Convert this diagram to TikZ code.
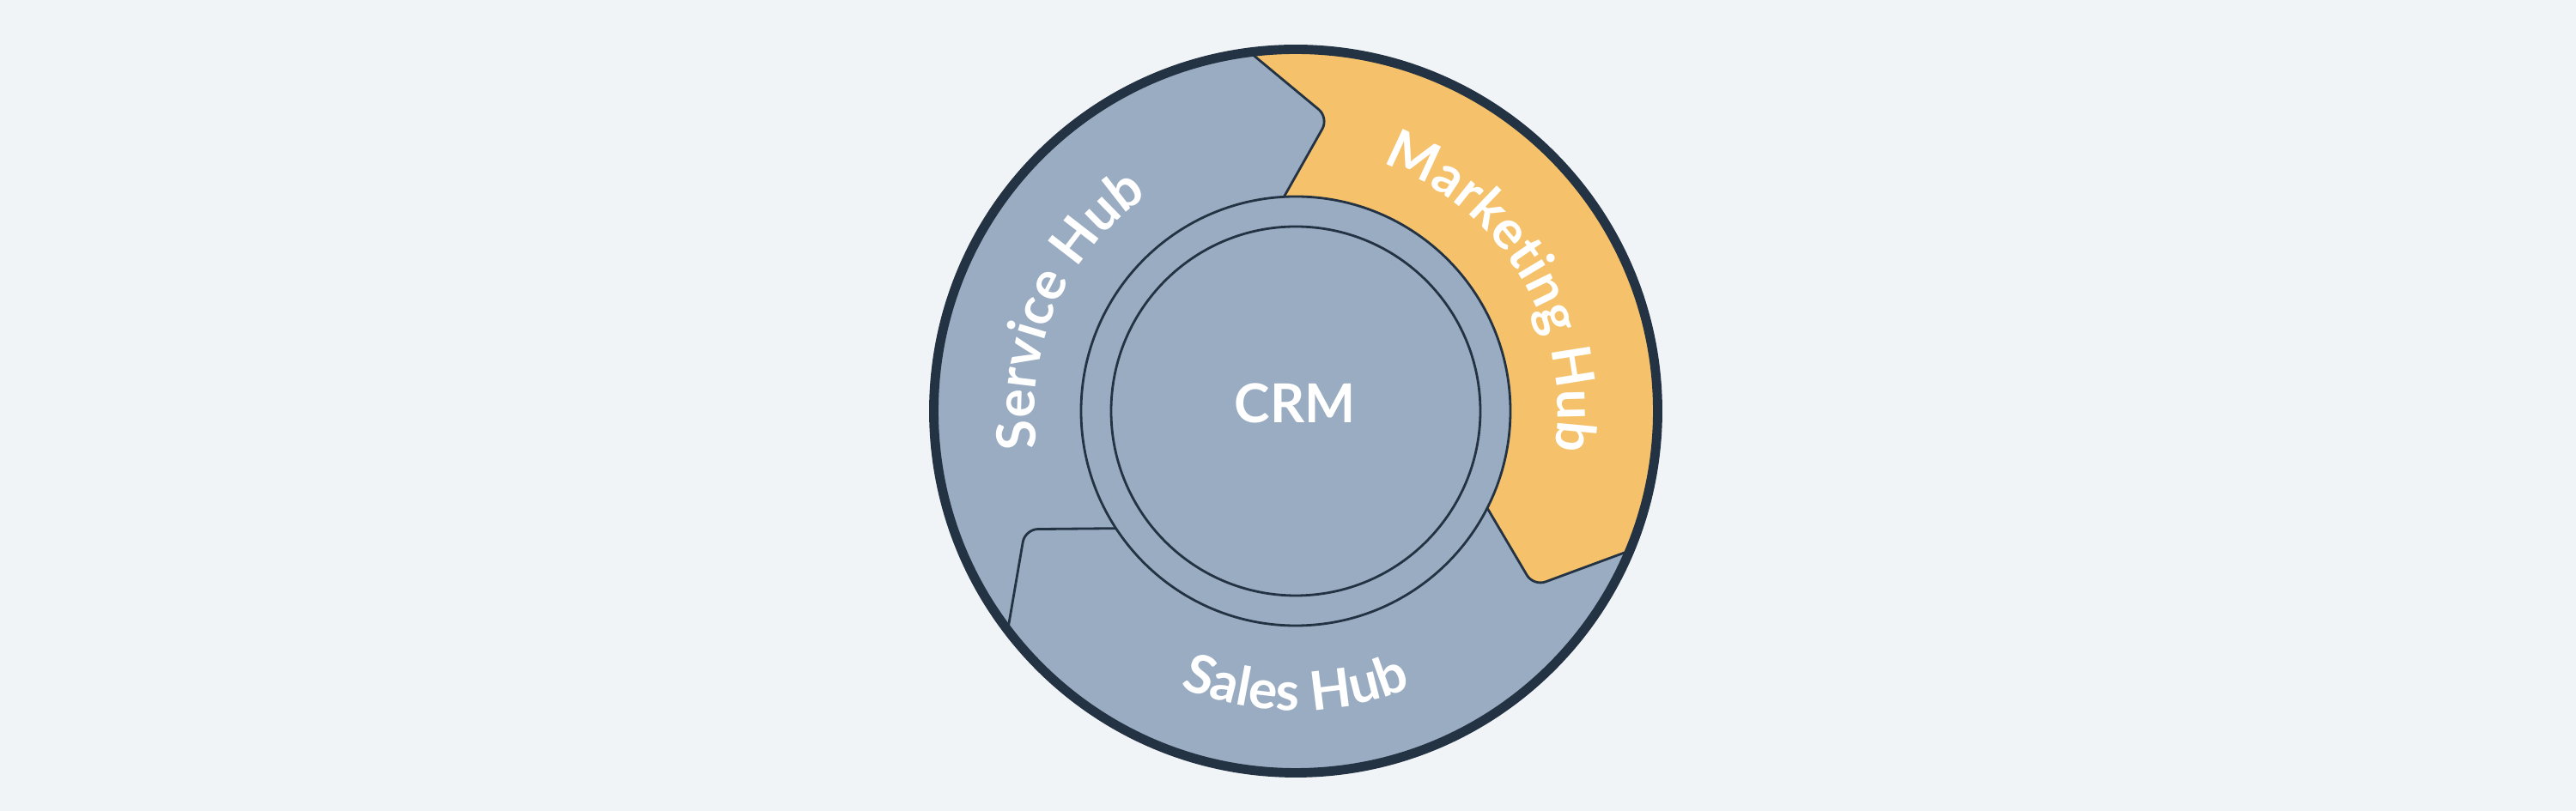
\documentclass[tikz,border=0pt]{standalone}
\usepackage{fontspec}
\setsansfont{Lato}
\usetikzlibrary{decorations.text}
\definecolor{hubbg}{HTML}{F1F4F7}
\definecolor{hubslate}{HTML}{9AACC2}
\definecolor{hubgold}{HTML}{F5C26B}
\definecolor{hubnavy}{HTML}{243343}
\newcommand{\hubfnt}{\sffamily\bfseries\fontsize{17.8}{21}\selectfont}
\tikzset{
    hubline/.style = {draw=hubnavy, line width=0.8pt, rounded corners=1.5mm},
    crmring/.style = {circle, draw=hubnavy, line width=0.8pt, fill=hubslate, inner sep=0pt},
    hublabel/.style = {decorate, decoration={text along path, text={|\hubfnt\color{white}|#1}, text align=center}}
}

\begin{document}
\begin{tikzpicture}
    \useasboundingbox[fill=hubbg] (-15.09,-4.66) rectangle (14.91,4.79);

    % service -> marketing
    \coordinate(SMt) at (83.6:3.44);
    \coordinate(SMi) at (97.5:2.24);
    \coordinate(SMo) at (99.6:4.41);
    % marketing -> sales
    \coordinate(MSt) at (-36.4:3.44);
    \coordinate(MSi) at (-22.5:2.24);
    \coordinate(MSo) at (-20.4:4.41);
    % sales -> service
    \coordinate(SVt) at (203.6:3.44);
    \coordinate(SVi) at (217.5:2.24);
    \coordinate(SVo) at (219.6:4.41);

    \begin{scope}
        \clip (0,0) circle (4.215);
        \fill[hubslate] (0,0) circle (4.3);
        \fill[hubgold, rounded corners=1.5mm] (SMi) -- (SMt) -- (SMo)
            arc[start angle=99.6, end angle=-20.4, radius=4.41] -- (MSt) -- (MSi) -- (0,0) -- cycle;
        \draw[hubline] (SMi) -- (SMt) -- (SMo);
        \draw[hubline] (MSi) -- (MSt) -- (MSo);
        \draw[hubline] (SVi) -- (SVt) -- (SVo);
    \end{scope}

    \node[crmring, minimum size=5cm] (ring) at (0,0) {};
    \node[crmring, minimum size=4.3cm] (core) at (0,0) {};
    \node[text=white, font=\hubfnt, inner sep=0pt] (crm) at (-0.01,0.09) {CRM};

    \draw[hubnavy, line width=3.1pt] (0,0) circle (4.215);

    \path[hublabel=Service Hub] (216.3:3.04) arc[start angle=216.3, end angle=96.3, radius=3.04];
    \path[hublabel=Marketing Hub] (91:3.05) arc[start angle=91, end angle=-29, radius=3.05];
    \path[hublabel=Sales Hub] (210:3.49) arc[start angle=210, end angle=330, radius=3.49];
\end{tikzpicture}
\end{document}
